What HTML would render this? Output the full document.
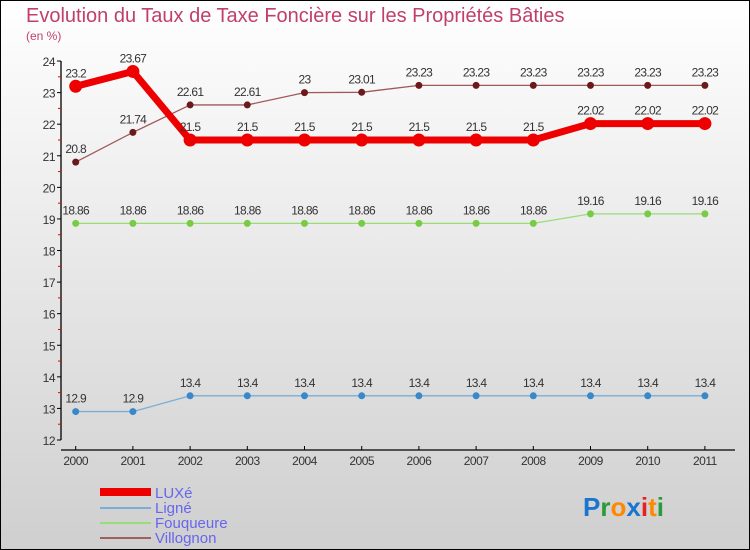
<!DOCTYPE html>
<html><head><meta charset="utf-8"><style>
html,body{margin:0;padding:0}
svg{display:block;font-family:"Liberation Sans",sans-serif}
</style></head><body>
<svg id="chart" width="750" height="550" viewBox="0 0 750 550">
<defs><linearGradient id="bg" x1="0" y1="0" x2="0" y2="1"><stop offset="0" stop-color="#ffffff"/><stop offset="1" stop-color="#cfcfcf"/></linearGradient></defs>
<rect x="0.5" y="0.5" width="749" height="549" fill="url(#bg)" stroke="#000"/>
<text x="26" y="22" font-size="20" fill="#c0406a">Evolution du Taux de Taxe Foncière sur les Propriétés Bâties</text>
<text x="26" y="40" font-size="12" fill="#c0406a">(en %)</text>
<g id="axes"></g>
<g id="series"></g>
<g>
<rect x="100" y="488" width="51" height="8" fill="#ee0000"/>
<text x="155" y="498" font-size="15" fill="#6666ee">LUXé</text>
<rect x="100" y="507" width="51" height="2" fill="#7aaed6"/>
<text x="155" y="513" font-size="15" fill="#6666ee">Ligné</text>
<rect x="100" y="522" width="51" height="2" fill="#99dd77"/>
<text x="155" y="528" font-size="15" fill="#6666ee">Fouqueure</text>
<rect x="100" y="537" width="51" height="2" fill="#a06060"/>
<text x="155" y="543" font-size="15" fill="#6666ee">Villognon</text>
</g>
<text x="583" y="516" font-size="26" font-weight="bold"><tspan fill="#1a75d1">P</tspan><tspan fill="#2a9a3a">r</tspan><tspan fill="#ff8800">o</tspan><tspan fill="#1a75d1">x</tspan><tspan fill="#e82020">i</tspan><tspan fill="#ff8800">t</tspan><tspan fill="#2a9a3a">i</tspan></text>
</svg>
<script>
var years=["2000","2001","2002","2003","2004","2005","2006","2007","2008","2009","2010","2011"];
var yTicks=[12,13,14,15,16,17,18,19,20,21,22,23,24];
var luxe=[23.2,23.67,21.5,21.5,21.5,21.5,21.5,21.5,21.5,22.02,22.02,22.02];
var luxeLabels=["23.2","23.67","21.5","21.5","21.5","21.5","21.5","21.5","21.5","22.02","22.02","22.02"];
var ligne=[12.9,12.9,13.4,13.4,13.4,13.4,13.4,13.4,13.4,13.4,13.4,13.4];
var ligneLabels=["12.9","12.9","13.4","13.4","13.4","13.4","13.4","13.4","13.4","13.4","13.4","13.4"];
var fouqueure=[18.86,18.86,18.86,18.86,18.86,18.86,18.86,18.86,18.86,19.16,19.16,19.16];
var fouqueureLabels=["18.86","18.86","18.86","18.86","18.86","18.86","18.86","18.86","18.86","19.16","19.16","19.16"];
var villognon=[20.8,21.74,22.61,22.61,23,23.01,23.23,23.23,23.23,23.23,23.23,23.23];
var villognonLabels=["20.8","21.74","22.61","22.61","23","23.01","23.23","23.23","23.23","23.23","23.23","23.23"];
var NS="http://www.w3.org/2000/svg";
function X(i){return 75.7+i*57.2;}
function Y(v){return 440-(v-12)*31.58;}
function mk(t,a,p){var e=document.createElementNS(NS,t);for(var k in a)e.setAttribute(k,a[k]);p.appendChild(e);return e;}
var ax=document.getElementById('axes');
var yl=mk('line',{x1:61,y1:Y(24),x2:61,y2:Y(12),stroke:'#000','stroke-width':1.3},ax);


yTicks.forEach(function(v,i){
 mk('line',{x1:57,y1:Y(v),x2:61,y2:Y(v),stroke:'#000'},ax);
 if(i<yTicks.length-1) mk('line',{x1:58,y1:Y(v+0.5),x2:61,y2:Y(v+0.5),stroke:'#e00'},ax);
 var t=mk('text',{x:55,y:Y(v)+5,'font-size':12,'text-anchor':'end',fill:'#333','letter-spacing':'-0.5'},ax);
 t.textContent=v;
 
 
});
var xl=mk('line',{x1:61,y1:450,x2:735,y2:450,stroke:'#000','stroke-width':1.3},ax);


years.forEach(function(y,i){
 mk('line',{x1:X(i),y1:446,x2:X(i),y2:450,stroke:'#000'},ax);
 var t=mk('text',{x:X(i),y:465,'font-size':12,'text-anchor':'middle',fill:'#333','letter-spacing':'-0.5'},ax);
 t.textContent=y;
 
 
});
var sg=document.getElementById('series');
function series(name,vals,labels,color,dot,w,r){
 var g=mk('g',{},sg);
 
 
 var pl=mk('polyline',{points:vals.map(function(v,i){return X(i)+','+Y(v);}).join(' '),fill:'none',stroke:color,'stroke-width':w,'stroke-linejoin':'round'},g);
 
 
 vals.forEach(function(v,i){
  var c=mk('circle',{cx:X(i),cy:Y(v),r:r,fill:dot},g);
  
  
  var t=mk('text',{x:X(i),y:Y(v)-9,'font-size':12,'text-anchor':'middle',fill:'#333','letter-spacing':'-0.7'},g);
  t.textContent=labels[i];
  
  
 });
}
series('villognon',villognon,villognonLabels,'#a05858','#6a1a1a',1.3,3.5);
series('fouqueure',fouqueure,fouqueureLabels,'#99dd77','#77cc44',1.3,3.5);
series('ligne',ligne,ligneLabels,'#7aaed6','#3a88c8',1.3,3.5);
series('luxe',luxe,luxeLabels,'#ee0000','#ee0000',7,6.5);
</script>
</body></html>
